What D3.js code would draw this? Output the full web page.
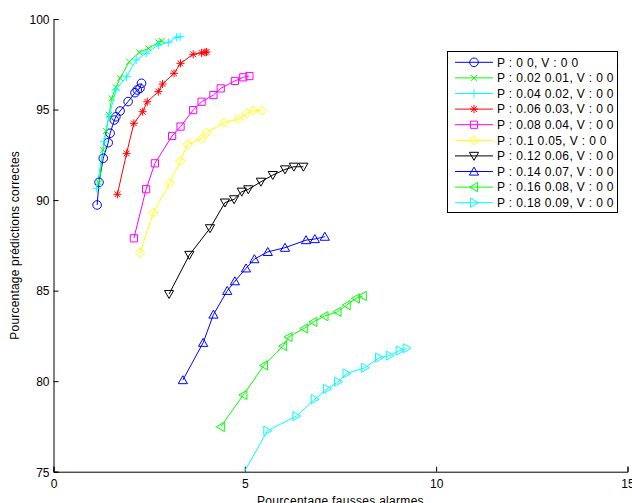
<!DOCTYPE html>
<html>
<head>
<meta charset="utf-8">
<script src="https://cdn.jsdelivr.net/npm/d3@7"></script>
<style>
  html, body { margin: 0; padding: 0; background: #fff; }
  svg { display: block; }
  text { font-family: "Liberation Sans", Arial, sans-serif; font-size: 12px; fill: #000; }
</style>
</head>
<body>
<div id="chart"></div>
<script>
// ---- data ----
const seriesNames = [
  "P : 0 0, V : 0 0",
  "P : 0.02 0.01, V : 0 0",
  "P : 0.04 0.02, V : 0 0",
  "P : 0.06 0.03, V : 0 0",
  "P : 0.08 0.04, V : 0 0",
  "P : 0.1 0.05, V : 0 0",
  "P : 0.12 0.06, V : 0 0",
  "P : 0.14 0.07, V : 0 0",
  "P : 0.16 0.08, V : 0 0",
  "P : 0.18 0.09, V : 0 0"
];
const seriesColors = ["#0000ff","#00ff00","#00ffff","#ff0000","#ff00ff","#ffff00","#000000","#0000ff","#00ff00","#00ffff"];
const seriesMarkers = ["o","x","+","*","s","d","v","^","<",">"];

const s1x = [1.14,1.19,1.30,1.43,1.48,1.59,1.63,1.74,1.95,2.13,2.19,2.26,2.30];
const s1y = [89.73,90.98,92.31,93.17,93.69,94.42,94.60,94.92,95.44,95.93,96.08,96.17,96.45];
const s2x = [1.20,1.29,1.37,1.45,1.52,1.63,1.74,1.98,2.24,2.48,2.74,2.83];
const s2y = [90.94,92.77,93.81,94.70,95.62,96.23,96.73,97.64,98.16,98.38,98.71,98.79];
const s3x = [1.13,1.32,1.46,1.63,1.91,2.16,2.42,2.74,3.00,3.22,3.31];
const s3y = [90.65,93.22,94.70,96.08,96.81,97.74,98.11,98.56,98.71,98.99,99.02];
const s4x = [1.67,1.91,2.10,2.33,2.45,2.74,2.85,3.15,3.32,3.65,3.87,3.96,4.00];
const s4y = [90.32,92.58,94.24,94.88,95.43,95.99,96.41,97.00,97.55,98.05,98.13,98.16,98.18];
const s5x = [2.10,2.42,2.65,3.10,3.32,3.65,3.87,4.18,4.37,4.74,4.96,5.12];
const s5y = [87.89,90.60,92.03,93.54,94.06,94.97,95.43,95.80,96.17,96.58,96.78,96.85];
const s6x = [2.26,2.61,3.03,3.31,3.51,3.87,4.00,4.46,4.83,5.05,5.22,5.44];
const s6y = [87.09,89.30,90.92,92.16,93.08,93.37,93.72,94.29,94.46,94.79,94.94,94.94];
const s7x = [3.02,3.55,4.09,4.48,4.72,4.92,5.09,5.42,5.73,6.05,6.28,6.53];
const s7y = [84.81,86.97,88.44,89.86,90.04,90.46,90.59,91.01,91.38,91.69,91.84,91.84];
const s8x = [3.38,3.91,4.18,4.54,4.74,5.03,5.25,5.60,6.05,6.60,6.83,7.09];
const s8y = [80.06,82.12,83.68,84.99,85.52,86.23,86.74,87.14,87.37,87.79,87.85,87.98];
const s9x = [4.37,4.96,5.50,6.00,6.14,6.55,6.79,7.08,7.42,7.66,7.90,8.08];
const s9y = [77.48,79.24,80.87,81.94,82.44,82.91,83.27,83.59,83.83,84.20,84.57,84.70];
const s10x = [4.80,5.59,6.35,6.83,7.15,7.44,7.66,8.14,8.51,8.79,9.05,9.23];
const s10y = [74.30,77.26,78.07,79.01,79.57,79.97,80.43,80.74,81.30,81.41,81.69,81.82];

const xTicks = [0,5,10,15];
const yTicks = [75,80,85,90,95,100];
const xLabel = "Pourcentage fausses alarmes";
const yLabel = "Pourcentage prédictions correctes";

const allX = [s1x,s2x,s3x,s4x,s5x,s6x,s7x,s8x,s9x,s10x];
const allY = [s1y,s2y,s3y,s4y,s5y,s6y,s7y,s8y,s9y,s10y];
const series = allX.map((xs, i) => ({
  name: seriesNames[i], color: seriesColors[i], marker: seriesMarkers[i],
  points: xs.map((xv, j) => ({x: xv, y: allY[i][j]}))
}));

// ---- layout ----
const W = 632, H = 503;
const mLeft = 53.5, mRight = 627.5, mTop = 19, mBottom = 471.7;

const x = d3.scaleLinear().domain([0, 15]).range([mLeft, mRight]);
const y = d3.scaleLinear().domain([75, 100]).range([mBottom, mTop]);

const svg = d3.select("#chart").append("svg").attr("width", W).attr("height", H);

svg.append("defs").append("clipPath").attr("id", "clip")
  .append("rect").attr("x", mLeft).attr("y", mTop).attr("width", mRight - mLeft).attr("height", mBottom - mTop);

function markerPath(m) {
  switch (m) {
    case "o": { const r = 4.3; return `M${r},0A${r},${r} 0 1,1 ${-r},0A${r},${r} 0 1,1 ${r},0Z`; }
    case "x": { const h = 3; return `M${-h},${-h}L${h},${h}M${-h},${h}L${h},${-h}`; }
    case "+": { const h = 4.2; return `M${-h},0L${h},0M0,${-h}L0,${h}`; }
    case "*": { const h = 4, d = 2.9; return `M${-h},0L${h},0M0,${-h}L0,${h}M${-d},${-d}L${d},${d}M${-d},${d}L${d},${-d}`; }
    case "s": { const h = 3.6; return `M${-h},${-h}L${h},${-h}L${h},${h}L${-h},${h}Z`; }
    case "d": { const h = 4.6; return `M0,${-h}L${h},0L0,${h}L${-h},0Z`; }
    case "v": return "M-4.6,-3.6L4.6,-3.6L0,4.4Z";
    case "^": return "M-4.6,3.6L4.6,3.6L0,-4.4Z";
    case "<": return "M3.6,-4.6L3.6,4.6L-4.4,0Z";
    case ">": return "M-3.6,-4.6L-3.6,4.6L4.4,0Z";
  }
}

// ---- axes ----
const xAxis = d3.axisBottom(x).tickValues(xTicks).tickSize(-5).tickPadding(8).tickFormat(d3.format("d"));
const yAxis = d3.axisLeft(y).tickValues(yTicks).tickSize(-5).tickPadding(4).tickFormat(d3.format("d"));

const gx = svg.append("g").attr("transform", `translate(0,${mBottom})`).call(xAxis);
const gy = svg.append("g").attr("transform", `translate(${mLeft},0)`).call(yAxis);
[gx, gy].forEach(g => {
  g.selectAll("path.domain").attr("stroke", "#000").attr("stroke-width", 1);
  g.selectAll(".tick line").attr("stroke", "#000").attr("stroke-width", 1);
  g.selectAll(".tick text").style("font-family", "Liberation Sans, Arial, sans-serif").style("font-size", "12px").attr("fill", "#000");
});
gy.selectAll(".tick text").attr("dy", "0.36em");

svg.append("text").attr("x", (mLeft + mRight) / 2).attr("y", 505).attr("text-anchor", "middle")
  .style("letter-spacing", "0.3px").text(xLabel);
svg.append("text").attr("transform", `translate(19,${(mTop + mBottom) / 2}) rotate(-90)`).attr("text-anchor", "middle")
  .style("letter-spacing", "0.2px").text(yLabel);

// ---- series ----
const line = d3.line().x(d => x(d.x)).y(d => y(d.y));
const plot = svg.append("g").attr("clip-path", "url(#clip)");
series.forEach(s => {
  plot.append("path").datum(s.points).attr("d", line)
    .attr("fill", "none").attr("stroke", s.color).attr("stroke-width", 1);
});
series.forEach(s => {
  svg.append("g").selectAll("path.m").data(s.points.filter(p => p.y >= 75 && p.y <= 100)).join("path")
    .attr("transform", d => `translate(${x(d.x)},${y(d.y)})`)
    .attr("d", markerPath(s.marker))
    .attr("fill", "none").attr("stroke", s.color).attr("stroke-width", 1);
});

// ---- legend ----
const lg = svg.append("g");
lg.append("rect").attr("x", 447.5).attr("y", 51.5).attr("width", 170).attr("height", 161)
  .attr("fill", "#fff").attr("stroke", "#000").attr("stroke-width", 1);
series.forEach((s, i) => {
  const yy = 62.3 + i * 15.6;
  lg.append("line").attr("x1", 455).attr("x2", 493).attr("y1", yy).attr("y2", yy)
    .attr("stroke", s.color).attr("stroke-width", 1);
  lg.append("path").attr("transform", `translate(474,${yy})`).attr("d", markerPath(s.marker))
    .attr("fill", "none").attr("stroke", s.color).attr("stroke-width", 1);
  lg.append("text").attr("x", 497).attr("y", yy).attr("dy", "0.36em")
    .style("letter-spacing", "0.35px").text(s.name);
});
</script>
</body>
</html>
